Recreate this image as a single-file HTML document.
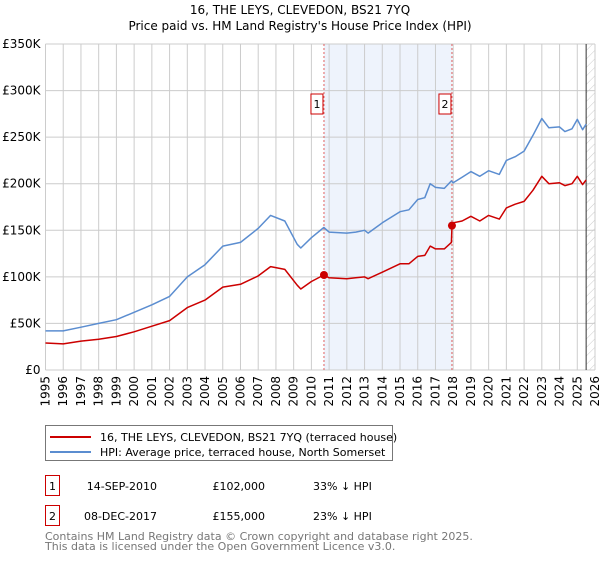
<!DOCTYPE html>
<html><head><meta charset="utf-8"><style>
body{margin:0;background:#fff;font-family:"Liberation Sans","DejaVu Sans",sans-serif;}
svg text{font-family:"DejaVu Sans","Liberation Sans",sans-serif;}
</style></head><body>
<svg id="c" width="600" height="560" xmlns="http://www.w3.org/2000/svg">
<text x="300" y="14" text-anchor="middle" font-size="12" fill="#000">16, THE LEYS, CLEVEDON, BS21 7YQ</text>
<text x="300" y="30" text-anchor="middle" font-size="12" fill="#000">Price paid vs. HM Land Registry's House Price Index (HPI)</text>
</svg>
<script>
const hpiYears=[1995,1996,1997,1998,1999,2000,2001,2002,2003,2004,2005,2006,2007,2007.7,2008.5,2009.2,2009.4,2010,2010.7,2011,2012,2012.5,2013,2013.2,2014,2015,2015.5,2016,2016.4,2016.7,2017,2017.5,2017.9,2018,2018.5,2019,2019.5,2020,2020.6,2021,2021.5,2022,2022.5,2023,2023.4,2024,2024.3,2024.7,2025,2025.3,2025.5];
const hpiValues=[42,42,46,50,54,62,70,79,100,113,133,137,152,166,160,135,131,142,153,148,147,148,150,147,158,170,172,183,185,200,196,195,203,201,207,213,208,214,210,225,229,235,252,270,260,261,256,259,269,258,264];
const priceYears=[1995,1996,1997,1998,1999,2000,2001,2002,2003,2004,2005,2006,2007,2007.7,2008.5,2009.2,2009.4,2010,2010.7,2011,2012,2012.5,2013,2013.2,2014,2015,2015.5,2016,2016.4,2016.7,2017,2017.5,2017.9,2017.93,2018,2018.5,2019,2019.5,2020,2020.6,2021,2021.5,2022,2022.5,2023,2023.4,2024,2024.3,2024.7,2025,2025.3,2025.5];
const priceValues=[29,28,31,33,36,41,47,53,67,75,89,92,101,111,108,91,87,95,102,99,98,99,100,98,105,114,114,122,123,133,130,130,137,155,158,160,165,160,166,162,174,178,181,193,208,200,201,198,200,208,199,204];
const saleYears=[2010.71,2017.93];
const saleValues=[102,155];
const saleLabels=["1","2"];
const yTicks=[0,50,100,150,200,250,300,350];
const yTickLabels=["£0","£50K","£100K","£150K","£200K","£250K","£300K","£350K"];
const xTicks=[];for(let y=1995;y<=2026;y++)xTicks.push(y);

const svg=document.getElementById('c');const NS="http://www.w3.org/2000/svg";
const X0=45.5,X1=595,Y0=370,Y1=44;
const xs=y=>X0+(y-1995)/(2026-1995)*(X1-X0);
const ys=v=>Y0-v/350*(Y0-Y1);
function mk(t,a,p){const e=document.createElementNS(NS,t);for(const k in a)e.setAttribute(k,a[k]);(p||svg).appendChild(e);return e;}
// defs hatch
const defs=mk('defs',{});
const pat=mk('pattern',{id:'h',width:6,height:6,patternUnits:'userSpaceOnUse',patternTransform:'rotate(45)'},defs);
mk('line',{x1:0,y1:0,x2:0,y2:6,stroke:'#ccc','stroke-width':1},pat);
// shade
const sh=mk('rect',{x:xs(saleYears[0]),y:Y1,width:xs(saleYears[1])-xs(saleYears[0]),height:Y0-Y1,fill:'#eef3fc'});


const ht=mk('rect',{x:xs(2025.5),y:Y1,width:X1-xs(2025.5),height:Y0-Y1,fill:'url(#h)'});


// grid
xTicks.forEach(y=>{const l=mk('line',{x1:xs(y),x2:xs(y),y1:Y1,y2:Y0,stroke:'#ccc','stroke-width':1});


const t=mk('text',{x:0,y:0,'font-size':12,fill:'#000','text-anchor':'end',transform:`translate(${xs(y)+4},${Y0+6}) rotate(-90)`});t.textContent=y;

});
yTicks.forEach((v,i)=>{const l=mk('line',{x1:X0,x2:X1,y1:ys(v),y2:ys(v),stroke:'#ccc','stroke-width':1});


const t=mk('text',{x:X0-5,y:ys(v)+4,'font-size':12,fill:'#000','text-anchor':'end'});t.textContent=yTickLabels[i];

});
mk('line',{x1:xs(2025.5),x2:xs(2025.5),y1:Y1,y2:Y0,stroke:'#333','stroke-width':1});
// sale vlines
saleYears.forEach((y,i)=>{const l=mk('line',{x1:xs(y),x2:xs(y),y1:Y1,y2:Y0,stroke:'#e06060','stroke-width':1,'stroke-dasharray':'2,2'});


const b=mk('rect',{x:xs(y)-13,y:94,width:12,height:20,fill:'#fff',stroke:'#c00','stroke-width':1});


const t=mk('text',{x:xs(y)-7,y:108,'font-size':11,'text-anchor':'middle',fill:'#000'});t.textContent=saleLabels[i];

});
function line(xa,va,col,name){const d=xa.map((y,i)=>(i?'L':'M')+xs(y).toFixed(1)+','+ys(va[i]).toFixed(1)).join('');
const p=mk('path',{d:d,fill:'none',stroke:col,'stroke-width':1.5,'stroke-linejoin':'round'});

}
line(hpiYears,hpiValues,'#5b8dd0','hpi-line');
line(priceYears,priceValues,'#cc0000','price-paid-line');
saleYears.forEach((y,i)=>{const c=mk('circle',{cx:xs(y),cy:ys(saleValues[i]),r:4,fill:'#cc0000'});

});
// legend
const g=mk('g',{});


mk('rect',{x:45.5,y:425.5,width:347,height:35,fill:'#fff',stroke:'#777'},g);
mk('line',{x1:50,x2:91,y1:437,y2:437,stroke:'#cc0000','stroke-width':2},g);
mk('line',{x1:50,x2:91,y1:452,y2:452,stroke:'#5b8dd0','stroke-width':2},g);
const t1=mk('text',{x:100,y:441,'font-size':11},g);t1.textContent="16, THE LEYS, CLEVEDON, BS21 7YQ (terraced house)";


const t2=mk('text',{x:100,y:456,'font-size':11},g);t2.textContent="HPI: Average price, terraced house, North Somerset";


// table
const rows=[["1","14-SEP-2010","£102,000","33% ↓ HPI"],["2","08-DEC-2017","£155,000","23% ↓ HPI"]];
rows.forEach((r,i)=>{const yy=476+i*30;
const b=mk('rect',{x:45.5,y:yy-0.5,width:14,height:20,fill:'#fff',stroke:'#c00'});


const cells=[[52.5,'middle',r[0]],[157,'end',r[1]],[265,'end',r[2]],[313,'start',r[3]]];
cells.forEach(c=>{const t=mk('text',{x:c[0],y:yy+14,'font-size':11,'text-anchor':c[1]});t.textContent=c[2];

});});
const f1=mk('text',{x:45,y:540,'font-size':11,fill:'#777'});f1.textContent="Contains HM Land Registry data © Crown copyright and database right 2025.";


const f2=mk('text',{x:45,y:550,'font-size':11,fill:'#777'});f2.textContent="This data is licensed under the Open Government Licence v3.0.";


</script>
</body></html>
